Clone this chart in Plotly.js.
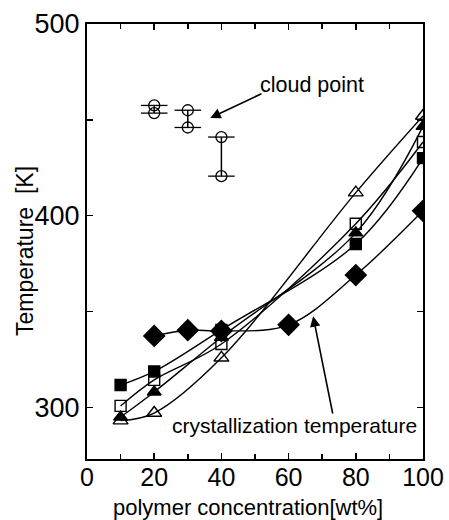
<!DOCTYPE html>
<html><head><meta charset="utf-8">
<script src="https://cdn.plot.ly/plotly-3.0.1.min.js"></script>
<style>body{margin:0;background:#fff}#chart{width:449px;height:520px}</style>
</head><body><div id="chart"></div>
<script>
// polymer concentration [wt%]
var conc = [10, 20, 40, 80, 100];
var filledSquare = [311.6, 318.7, 340.4, 385.2, 430.0];
var openSquare   = [300.7, 314.3, 333.0, 395.8, 438.4];
var filledTri    = [294.9, 308.0, 336.5, 391.0, 446.6];
var openTri      = [293.0, 297.0, 325.8, 412.0, 452.0];
var diamondConc  = [20, 30, 40, 60, 80, 100];
var diamondTemp  = [337.2, 340.2, 339.8, 343.0, 369.0, 402.5];
// cloud points
var cloudConc = [20, 30, 40];
var cloudHigh = [457.5, 455.0, 441.0];
var cloudLow  = [453.5, 446.0, 420.6];

var FONT = 'Liberation Sans, Arial, sans-serif';
var ML = 87, MT = 24, PW = 336, PH = 435;
var traces = [];
function curve(x, y, sym, size) {
  return {x: x, y: y, mode: 'lines+markers', type: 'scatter',
    line: {color: '#000', width: 1.4, shape: 'spline', smoothing: 1},
    marker: {symbol: sym, size: size, color: '#000', line: {color: '#000', width: 1.4}},
    showlegend: false, hoverinfo: 'skip'};
}
traces.push(curve(conc, openTri, 'triangle-up-open', 13));
traces.push(curve(conc, filledTri, 'triangle-up', 12));
traces.push(curve(conc, openSquare, 'square-open', 11));
traces.push(curve(conc, filledSquare, 'square', 11));
traces.push(curve(diamondConc, diamondTemp, 'diamond', 16));

// cloud point pairs
var cx = [], cy = [], px = [], py = [];
for (var i = 0; i < cloudConc.length; i++) {
  cx.push(cloudConc[i], cloudConc[i], null);
  cy.push(cloudHigh[i], cloudLow[i], null);
  px.push(cloudConc[i], cloudConc[i]);
  py.push(cloudHigh[i], cloudLow[i]);
}
traces.push({x: cx, y: cy, mode: 'lines', type: 'scatter', line: {color: '#000', width: 1.5},
  showlegend: false, hoverinfo: 'skip'});
traces.push({x: px, y: py, mode: 'markers', type: 'scatter',
  marker: {symbol: 'line-ew-open', size: 19, color: '#000', line: {color: '#000', width: 1.3}},
  showlegend: false, hoverinfo: 'skip'});
traces.push({x: px, y: py, mode: 'markers', type: 'scatter',
  marker: {symbol: 'circle-open', size: 11, color: '#000', line: {color: '#000', width: 1.3}},
  showlegend: false, hoverinfo: 'skip'});

function arrow(hx, hy, tailPxX, tailPxY) {
  var xs = ML + (hx / 100) * PW;
  var ys = MT + (500 - hy) / 227 * PH;
  return {x: hx, y: hy, ax: tailPxX - xs, ay: tailPxY - ys, xref: 'x', yref: 'y', text: '',
    showarrow: true, arrowhead: 2, arrowsize: 1.3, arrowwidth: 1.6, arrowcolor: '#000'};
}
function label(pxX, pxY, text, size, angle) {
  return {xref: 'paper', yref: 'paper', x: (pxX - ML) / PW, y: (MT + PH - pxY) / PH, text: text,
    showarrow: false, font: {size: size, family: FONT, color: '#000'}, textangle: angle || 0,
    xanchor: 'center', yanchor: 'middle'};
}

var layout = {
  width: 449, height: 520,
  margin: {l: ML, r: 449 - ML - PW, t: MT, b: 520 - MT - PH},
  paper_bgcolor: '#fff', plot_bgcolor: '#fff',
  font: {family: FONT, color: '#000'},
  xaxis: {
    range: [0, 100], tickvals: [0, 20, 40, 60, 80, 100], ticks: 'inside', ticklen: 6, tickwidth: 1.5,
    minor: {tickvals: [10, 30, 50, 70, 90], ticks: 'inside', ticklen: 5, tickwidth: 1.5, tickcolor: '#000'},
    showline: true, linewidth: 2, linecolor: '#000', mirror: 'ticks', showgrid: false, zeroline: false,
    tickfont: {size: 25, family: FONT}, tickcolor: '#000', ticklabelstandoff: -5
  },
  yaxis: {
    range: [273, 500], tickvals: [300, 400, 500], ticks: 'inside', ticklen: 6, tickwidth: 1.5,
    minor: {tickvals: [350, 450], ticks: 'inside', ticklen: 6, tickwidth: 1.5, tickcolor: '#000'},
    showline: true, linewidth: 2, linecolor: '#000', mirror: 'ticks', showgrid: false, zeroline: false,
    tickfont: {size: 27, family: FONT}, tickcolor: '#000', ticklabelstandoff: 0
  },
  annotations: [
    arrow(36.7, 451, 263, 93),
    arrow(67.3, 347.5, 333, 415),
    label(312, 85, 'cloud point', 21.5),
    label(294, 425, 'crystallization temperature', 21),
    label(248, 507, 'polymer concentration[wt%]', 22),
    label(25, 251, 'Temperature\u00a0\u00a0[K]', 23, -90)
  ]
};
Plotly.newPlot('chart', traces, layout, {displayModeBar: false, staticPlot: true});
</script></body></html>
